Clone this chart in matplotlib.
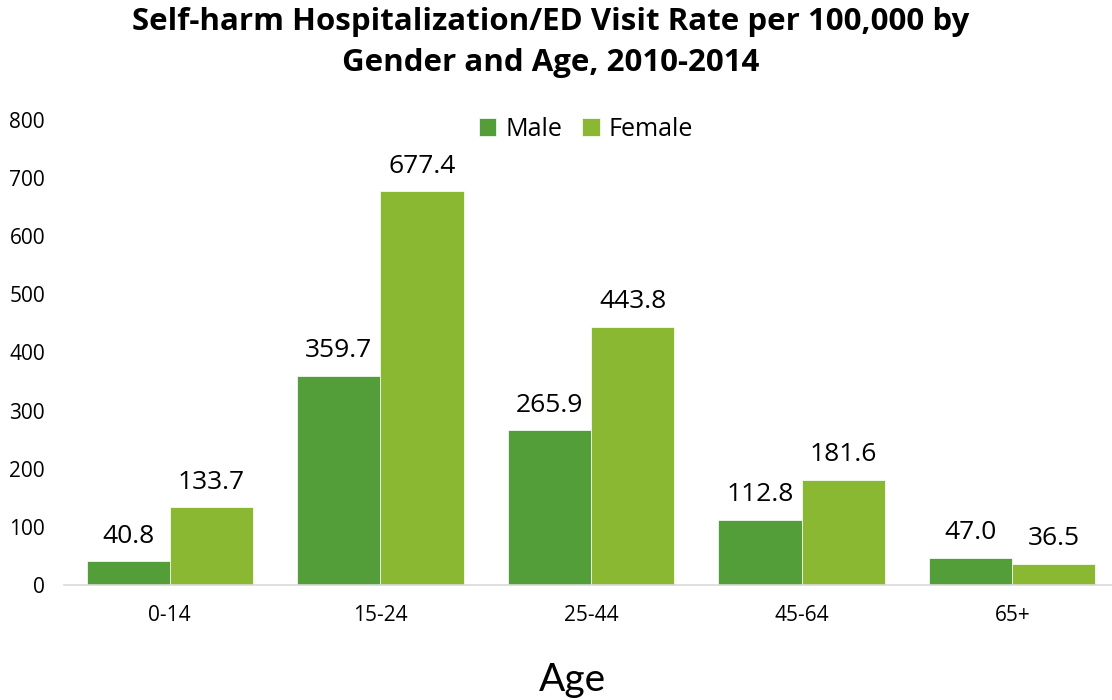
import matplotlib
matplotlib.use("Agg")
import matplotlib.pyplot as plt
import numpy as np

categories = ["0-14", "15-24", "25-44", "45-64", "65+"]
male = [40.8, 359.7, 265.9, 112.8, 47.0]
female = [133.7, 677.4, 443.8, 181.6, 36.5]
yticks = [0, 100, 200, 300, 400, 500, 600, 700, 800]

plt.rcParams['font.family'] = ['Open Sans', 'DejaVu Sans']

fig = plt.figure(figsize=(11.12, 7.0), dpi=100)
ax = fig.add_axes([0.058, 0.164, 0.947, 0.665])

x = np.arange(len(categories))
w = 0.395
c_male = "#549E39"
c_female = "#8AB833"
b1 = ax.bar(x - w/2, male, w, color=c_male, label="Male", edgecolor="white", linewidth=0.5)
b2 = ax.bar(x + w/2, female, w, color=c_female, label="Female", edgecolor="white", linewidth=0.5)

for bars, vals in ((b1, male), (b2, female)):
    for r, v in zip(bars, vals):
        ax.annotate(f"{v:.1f}", (r.get_x() + r.get_width()/2, v), xytext=(0, 9),
                    textcoords="offset points", ha="center", va="bottom", fontsize=19)

ax.set_xlim(-0.5, len(categories) - 0.5)
ax.set_ylim(0, 800)
ax.set_yticks(yticks)
ax.set_xticks(x)
ax.set_xticklabels(categories)
ax.tick_params(axis="both", length=0, labelsize=15)
ax.tick_params(axis="x", pad=14)
ax.tick_params(axis="y", pad=14)
for s in ("top", "right", "left"):
    ax.spines[s].set_visible(False)
ax.spines["bottom"].set_color("#D9D9D9")
ax.spines["bottom"].set_linewidth(1.2)

ax.legend(loc="upper center", bbox_to_anchor=(0.495, 1.055), ncol=2, frameon=False,
          fontsize=18, handlelength=0.7, handleheight=0.7, handletextpad=0.35, columnspacing=0.8)

fig.text(0.495, 0.939, "Self-harm Hospitalization/ED Visit Rate per 100,000 by\nGender and Age, 2010-2014",
         ha="center", va="center", fontsize=22.5, fontweight="bold", linespacing=1.5)
fig.text(0.515, 0.029, "Age", ha="center", va="center", fontsize=28, family=["Lato", "DejaVu Sans"])

fig.savefig("out.png", dpi=100)
